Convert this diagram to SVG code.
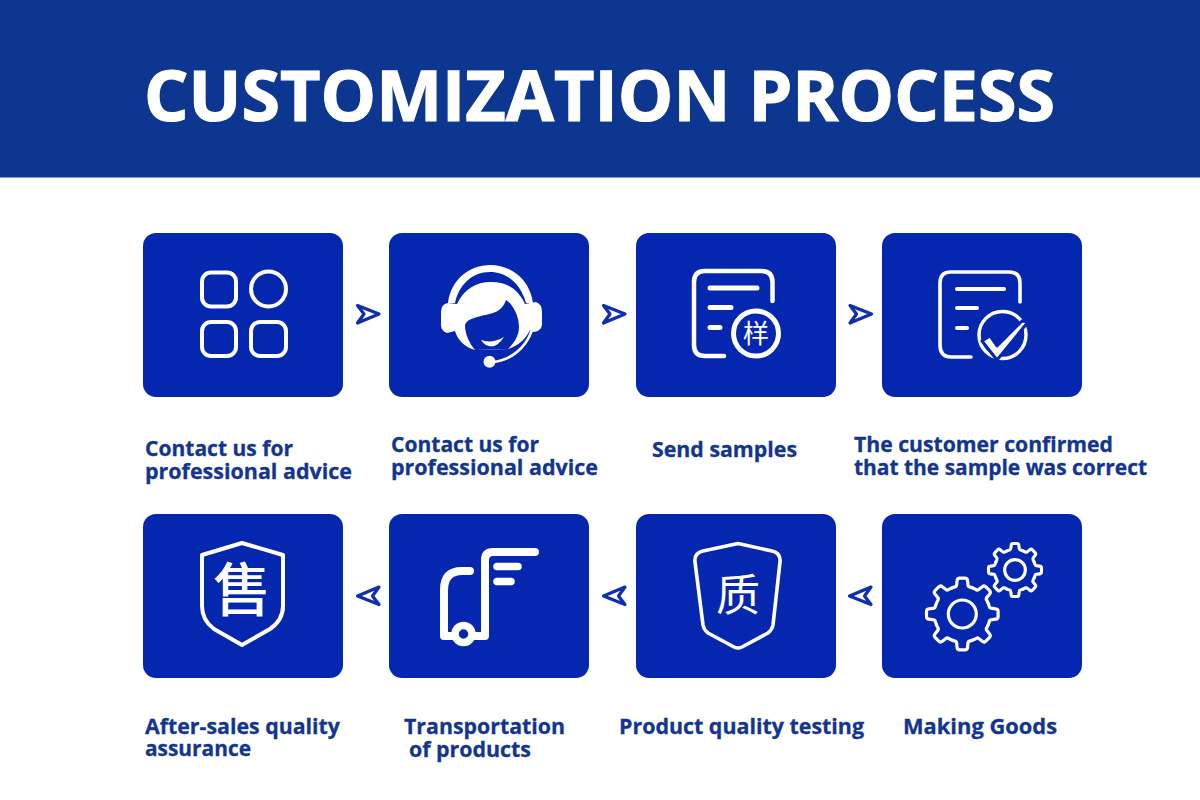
<svg xmlns="http://www.w3.org/2000/svg" xmlns:xlink="http://www.w3.org/1999/xlink" width="1200" height="800" viewBox="0 0 1200 800">
<style>
.card{fill:#0527b0}
.ln{fill:none;stroke:#fff;stroke-linecap:round;stroke-linejoin:round}
.fw{fill:#fff}
.lab{font-family:"Open Sans","Liberation Sans",sans-serif;font-weight:700;font-size:21.500px;fill:#12358f;stroke:#12358f;stroke-width:.3}
.cjk{font-family:"Noto Sans CJK SC",sans-serif;fill:#fff;text-anchor:middle}
.arr{fill:#fff;stroke:#0d2fb0;stroke-width:3.200;stroke-linejoin:round}
</style>
<defs>
<path id="seg" d="M-10.7-25.9 A28 28 0 0 1-7.2-27.1 Q-5.6-27.5-5.6-30 L-5.2-33.5 Q-5-35.8-2.5-35.8 H2.5 Q5-35.8 5.2-33.5 L5.6-30 Q5.6-27.5 7.2-27.1 A28 28 0 0 1 10.7-25.9"/>
<g id="gear">
<use xlink:href="#seg"/><use xlink:href="#seg" transform="rotate(45)"/><use xlink:href="#seg" transform="rotate(90)"/><use xlink:href="#seg" transform="rotate(135)"/><use xlink:href="#seg" transform="rotate(180)"/><use xlink:href="#seg" transform="rotate(225)"/><use xlink:href="#seg" transform="rotate(270)"/><use xlink:href="#seg" transform="rotate(315)"/>
</g>
</defs>
<rect width="1200" height="800" fill="#fff"/>
<g id="header">
<rect width="1200" height="177.500" fill="#0d3690"/>
<text x="144" y="121" font-family="'Open Sans','Liberation Sans',sans-serif" font-weight="700" font-size="70" fill="#fff" stroke="#fff" stroke-width="1.200" textLength="911" lengthAdjust="spacingAndGlyphs">CUSTOMIZATION PROCESS</text>
</g>
<g id="connectors">
<path class="arr" d="M357.500,305.500 L379,314 L357.500,323 L364,314 Z"/>
<path class="arr" d="M603.500,305.500 L625,314 L603.500,323 L610,314 Z"/>
<path class="arr" d="M850,305.500 L871.500,314 L850,323 L856.500,314 Z"/>
<path class="arr" d="M379,587 L357.500,596 L379,604.500 L372.500,596 Z"/>
<path class="arr" d="M625,587 L603.500,596 L625,604.500 L618.500,596 Z"/>
<path class="arr" d="M871,587 L849.500,596 L871,604.500 L864.500,596 Z"/>
</g>
<g id="node-1">
<rect class="card" x="143" y="233" width="200" height="164" rx="13"/>
<g class="ln" stroke-width="4"><rect x="202" y="272.500" width="34" height="34" rx="9"/><circle cx="268.500" cy="289" r="17.500"/><rect x="202" y="322" width="34" height="34" rx="9"/><rect x="251" y="322" width="35" height="34" rx="9"/></g>
<text class="lab" x="145" y="456" textLength="148" lengthAdjust="spacingAndGlyphs">Contact us for</text>
<text class="lab" x="145" y="479" textLength="207" lengthAdjust="spacingAndGlyphs">professional advice</text>
</g>
<g id="node-2">
<rect class="card" x="389" y="233" width="200" height="164" rx="13"/>
<path class="fw" d="M448,303 C451,279 470,265 490,265 C512,265 530,280 533,303 L526,303 C521,285 508,272 490,272 C472,272 459,285 455,303 Z"/>
<path class="fw" d="M457,304 C464,289 476,282 491,282 C507,282 518,289 525,304 L536,302 Q542,304 542,312 L542,325 Q541,331 534,332 L530,330 C526,339 518,346 508,349 L475,350 C465,347 458,341 455,331 L447,333 Q441,331 441,325 L441,312 Q441,304 448,303 Z"/>
<path class="card" d="M465,325 C467,318 478,317 493,313 C500,311 504,306 506,300 C513,304 519,316 519,327 C519,336 514,343 508,349 L475,350 C470,344 465,335 465,325Z"/>
<path class="fw" d="M481,340 Q492,344 504,337 Q498,346 492,346.500 Q485,346.500 481,340Z"/>
<path class="ln" stroke-width="2.600" d="M532,330 C526,348 510,361 492,362"/>
<circle class="fw" cx="489.500" cy="361.700" r="6"/>
<text class="lab" x="391" y="452" textLength="148" lengthAdjust="spacingAndGlyphs">Contact us for</text>
<text class="lab" x="391" y="475" textLength="207" lengthAdjust="spacingAndGlyphs">professional advice</text>
</g>
<g id="node-3">
<rect class="card" x="636" y="233" width="200" height="164" rx="13"/>
<path class="ln" stroke-width="4.500" d="M772.500,301 V282 Q772.500,271 761,271 H705 Q694,271 694,282 V345 Q694,356 705,356 H724"/>
<path class="ln" stroke-width="5" d="M710,288 H757 M710,307.500 H731 M710,327.500 H720"/>
<circle class="ln" cx="756" cy="333.500" r="22.500" stroke-width="5"/>
<text class="cjk" x="756" y="343" font-size="26">样</text>
<text class="lab" x="652" y="457" textLength="145" lengthAdjust="spacingAndGlyphs">Send samples</text>
</g>
<g id="node-4">
<rect class="card" x="882" y="233" width="200" height="164" rx="13"/>
<path class="ln" stroke-width="3.600" d="M1020,302 V283 Q1020,272 1009,272 H951 Q940,272 940,283 V345 Q940,357 951,357 H971"/>
<path class="ln" stroke-width="4" d="M957,289 H1004 M957,308 H977 M957,328 H967"/>
<circle class="ln" cx="1002.500" cy="335" r="23.500" stroke-width="3.500"/>
<path d="M982,341 L990,336 L997,346 L1022,321 L1028,322 L997,360 Z" fill="#fff" stroke="#0527b0" stroke-width="3" stroke-linejoin="round"/>
<text class="lab" x="854" y="452" textLength="259" lengthAdjust="spacingAndGlyphs">The customer confirmed</text>
<text class="lab" x="854" y="475" textLength="293" lengthAdjust="spacingAndGlyphs">that the sample was correct</text>
</g>
<g id="node-5">
<rect class="card" x="143" y="514" width="200" height="164" rx="13"/>
<path class="ln" stroke-width="4" d="M242,543 L283,555 V606 Q283,620 270,629 L242,645 L214,629 Q202,620 202,606 V555 Z"/>
<text class="cjk" x="242" y="611" font-size="58" font-weight="500">售</text>
<text class="lab" x="145" y="734" textLength="195" lengthAdjust="spacingAndGlyphs">After-sales quality</text>
<text class="lab" x="145" y="756" textLength="106" lengthAdjust="spacingAndGlyphs">assurance</text>
</g>
<g id="node-6">
<rect class="card" x="389" y="514" width="200" height="164" rx="13"/>
<path class="ln" stroke-width="8" d="M470,571 H462 Q444,571 444,590 V636 H485 V560 Q485,552 493,552 H535"/>
<path class="ln" stroke-width="7.500" d="M497,566.500 H518 M497,581.500 H511"/>
<circle cx="463.500" cy="634" r="8.500" fill="#0527b0" stroke="#fff" stroke-width="7.500"/>
<text class="lab" x="404" y="734" textLength="161" lengthAdjust="spacingAndGlyphs">Transportation</text>
<text class="lab" x="409" y="757" textLength="122" lengthAdjust="spacingAndGlyphs">of products</text>
</g>
<g id="node-7">
<rect class="card" x="636" y="514" width="200" height="164" rx="13"/>
<path class="ln" stroke-width="3.600" d="M738,543.500 L772,551 Q781,553 780,562 L773,625 Q772,630 768,633 L742,647 Q738,649 734,647 L708,633 Q704,630 703,625 L695,562 Q694,553 703,551 Z"/>
<text class="cjk" x="738" y="611" font-size="44">质</text>
<text class="lab" x="619" y="734" textLength="245" lengthAdjust="spacingAndGlyphs">Product quality testing</text>
</g>
<g id="node-8">
<rect class="card" x="882" y="514" width="200" height="164" rx="13"/>
<g class="ln" stroke-width="3.200" transform="translate(962.300,614)"><use xlink:href="#gear"/><circle r="14"/></g>
<g class="ln" stroke-width="4.200" transform="translate(1015,570) scale(.74)"><use xlink:href="#gear"/><circle r="14"/></g>
<text class="lab" x="903" y="734" textLength="154" lengthAdjust="spacingAndGlyphs">Making Goods</text>
</g>
</svg>
